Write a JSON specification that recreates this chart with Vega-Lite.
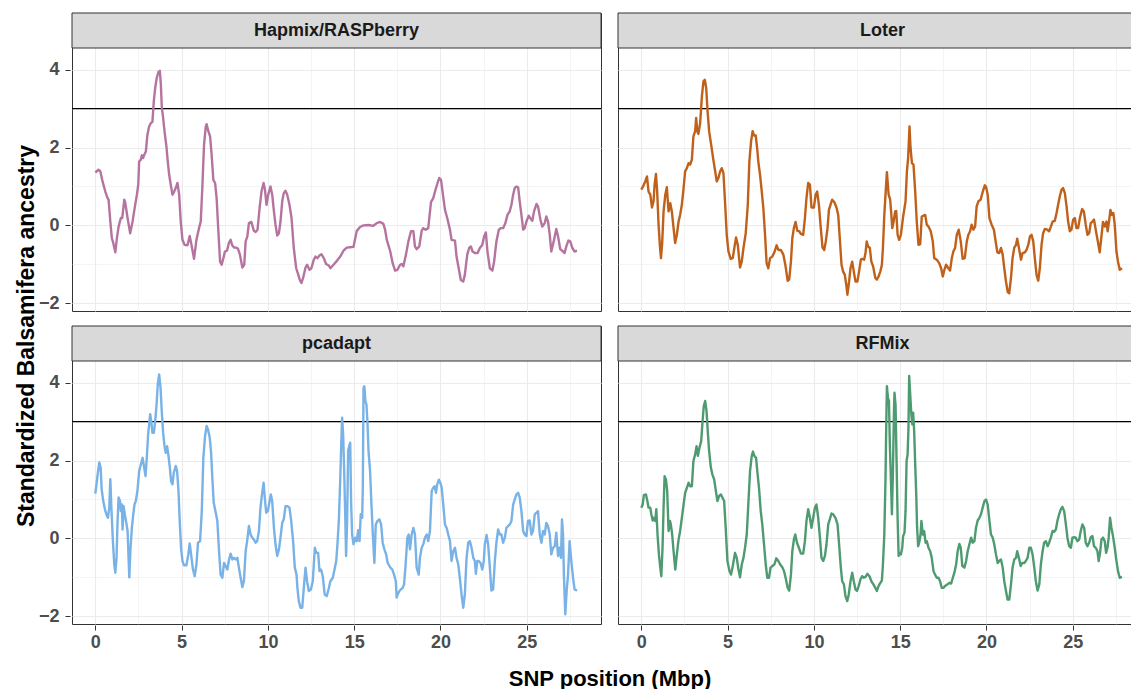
{
"$schema": "https://vega.github.io/schema/vega-lite/v6.json",
"padding": {"left": 16, "top": 12, "right": 0, "bottom": 5},
"background": "white",
"title": {"text": "Standardized Balsamifera ancestry", "orient": "left", "anchor": "middle", "font": "Liberation Sans", "fontSize": 23, "fontWeight": "bold", "color": "#000000", "offset": -1, "dx": 15},
"config": {"view": {"stroke": "#333333", "strokeWidth": 1}, "font": "Liberation Sans"},
"data": {"values": [
{"m":"Hapmix/RASPberry","x":0,"y":1.36},{"m":"Hapmix/RASPberry","x":0.19,"y":1.43},{"m":"Hapmix/RASPberry","x":0.29,"y":1.39},{"m":"Hapmix/RASPberry","x":0.42,"y":1.13},{"m":"Hapmix/RASPberry","x":0.58,"y":0.87},{"m":"Hapmix/RASPberry","x":0.71,"y":0.70},{"m":"Hapmix/RASPberry","x":0.77,"y":0.66},{"m":"Hapmix/RASPberry","x":0.87,"y":0.10},{"m":"Hapmix/RASPberry","x":0.96,"y":-0.33},{"m":"Hapmix/RASPberry","x":1.04,"y":-0.45},{"m":"Hapmix/RASPberry","x":1.16,"y":-0.69},{"m":"Hapmix/RASPberry","x":1.25,"y":-0.33},{"m":"Hapmix/RASPberry","x":1.35,"y":-0.03},{"m":"Hapmix/RASPberry","x":1.48,"y":0.19},{"m":"Hapmix/RASPberry","x":1.56,"y":0.19},{"m":"Hapmix/RASPberry","x":1.68,"y":0.66},{"m":"Hapmix/RASPberry","x":1.73,"y":0.60},{"m":"Hapmix/RASPberry","x":1.87,"y":0.19},{"m":"Hapmix/RASPberry","x":2.02,"y":-0.20},{"m":"Hapmix/RASPberry","x":2.16,"y":0.10},{"m":"Hapmix/RASPberry","x":2.25,"y":0.36},{"m":"Hapmix/RASPberry","x":2.41,"y":0.79},{"m":"Hapmix/RASPberry","x":2.49,"y":1.05},{"m":"Hapmix/RASPberry","x":2.54,"y":1.64},{"m":"Hapmix/RASPberry","x":2.64,"y":1.69},{"m":"Hapmix/RASPberry","x":2.70,"y":1.80},{"m":"Hapmix/RASPberry","x":2.77,"y":1.73},{"m":"Hapmix/RASPberry","x":2.85,"y":1.83},{"m":"Hapmix/RASPberry","x":2.93,"y":1.90},{"m":"Hapmix/RASPberry","x":3.02,"y":2.33},{"m":"Hapmix/RASPberry","x":3.12,"y":2.54},{"m":"Hapmix/RASPberry","x":3.22,"y":2.63},{"m":"Hapmix/RASPberry","x":3.31,"y":2.66},{"m":"Hapmix/RASPberry","x":3.39,"y":3.19},{"m":"Hapmix/RASPberry","x":3.47,"y":3.53},{"m":"Hapmix/RASPberry","x":3.56,"y":3.79},{"m":"Hapmix/RASPberry","x":3.66,"y":3.94},{"m":"Hapmix/RASPberry","x":3.74,"y":3.97},{"m":"Hapmix/RASPberry","x":3.80,"y":3.61},{"m":"Hapmix/RASPberry","x":3.85,"y":3.06},{"m":"Hapmix/RASPberry","x":3.93,"y":2.76},{"m":"Hapmix/RASPberry","x":4.01,"y":2.42},{"m":"Hapmix/RASPberry","x":4.12,"y":2.03},{"m":"Hapmix/RASPberry","x":4.20,"y":1.64},{"m":"Hapmix/RASPberry","x":4.28,"y":1.30},{"m":"Hapmix/RASPberry","x":4.37,"y":1.05},{"m":"Hapmix/RASPberry","x":4.47,"y":0.79},{"m":"Hapmix/RASPberry","x":4.57,"y":0.87},{"m":"Hapmix/RASPberry","x":4.66,"y":0.96},{"m":"Hapmix/RASPberry","x":4.76,"y":1.09},{"m":"Hapmix/RASPberry","x":4.86,"y":0.79},{"m":"Hapmix/RASPberry","x":4.95,"y":0.10},{"m":"Hapmix/RASPberry","x":5.05,"y":-0.37},{"m":"Hapmix/RASPberry","x":5.18,"y":-0.50},{"m":"Hapmix/RASPberry","x":5.34,"y":-0.51},{"m":"Hapmix/RASPberry","x":5.47,"y":-0.27},{"m":"Hapmix/RASPberry","x":5.59,"y":-0.54},{"m":"Hapmix/RASPberry","x":5.72,"y":-0.86},{"m":"Hapmix/RASPberry","x":5.86,"y":-0.37},{"m":"Hapmix/RASPberry","x":6.01,"y":-0.07},{"m":"Hapmix/RASPberry","x":6.11,"y":0.10},{"m":"Hapmix/RASPberry","x":6.20,"y":0.96},{"m":"Hapmix/RASPberry","x":6.30,"y":2.07},{"m":"Hapmix/RASPberry","x":6.40,"y":2.54},{"m":"Hapmix/RASPberry","x":6.45,"y":2.60},{"m":"Hapmix/RASPberry","x":6.55,"y":2.42},{"m":"Hapmix/RASPberry","x":6.65,"y":2.29},{"m":"Hapmix/RASPberry","x":6.74,"y":1.82},{"m":"Hapmix/RASPberry","x":6.84,"y":1.17},{"m":"Hapmix/RASPberry","x":6.94,"y":1.09},{"m":"Hapmix/RASPberry","x":7.03,"y":0.70},{"m":"Hapmix/RASPberry","x":7.13,"y":-0.15},{"m":"Hapmix/RASPberry","x":7.23,"y":-0.93},{"m":"Hapmix/RASPberry","x":7.32,"y":-1.01},{"m":"Hapmix/RASPberry","x":7.42,"y":-0.84},{"m":"Hapmix/RASPberry","x":7.51,"y":-0.67},{"m":"Hapmix/RASPberry","x":7.63,"y":-0.65},{"m":"Hapmix/RASPberry","x":7.74,"y":-0.45},{"m":"Hapmix/RASPberry","x":7.84,"y":-0.37},{"m":"Hapmix/RASPberry","x":7.93,"y":-0.51},{"m":"Hapmix/RASPberry","x":8.05,"y":-0.57},{"m":"Hapmix/RASPberry","x":8.16,"y":-0.57},{"m":"Hapmix/RASPberry","x":8.27,"y":-0.60},{"m":"Hapmix/RASPberry","x":8.38,"y":-0.75},{"m":"Hapmix/RASPberry","x":8.52,"y":-1.08},{"m":"Hapmix/RASPberry","x":8.63,"y":-1.01},{"m":"Hapmix/RASPberry","x":8.71,"y":-0.41},{"m":"Hapmix/RASPberry","x":8.81,"y":-0.28},{"m":"Hapmix/RASPberry","x":8.90,"y":0.06},{"m":"Hapmix/RASPberry","x":9.04,"y":0.09},{"m":"Hapmix/RASPberry","x":9.19,"y":-0.14},{"m":"Hapmix/RASPberry","x":9.29,"y":-0.17},{"m":"Hapmix/RASPberry","x":9.40,"y":-0.11},{"m":"Hapmix/RASPberry","x":9.52,"y":0.45},{"m":"Hapmix/RASPberry","x":9.63,"y":0.87},{"m":"Hapmix/RASPberry","x":9.75,"y":1.09},{"m":"Hapmix/RASPberry","x":9.83,"y":0.92},{"m":"Hapmix/RASPberry","x":9.92,"y":0.53},{"m":"Hapmix/RASPberry","x":10.02,"y":0.79},{"m":"Hapmix/RASPberry","x":10.15,"y":1.00},{"m":"Hapmix/RASPberry","x":10.25,"y":0.79},{"m":"Hapmix/RASPberry","x":10.35,"y":0.36},{"m":"Hapmix/RASPberry","x":10.44,"y":0.02},{"m":"Hapmix/RASPberry","x":10.54,"y":-0.26},{"m":"Hapmix/RASPberry","x":10.64,"y":-0.20},{"m":"Hapmix/RASPberry","x":10.73,"y":0.10},{"m":"Hapmix/RASPberry","x":10.83,"y":0.62},{"m":"Hapmix/RASPberry","x":10.92,"y":0.83},{"m":"Hapmix/RASPberry","x":11.02,"y":0.89},{"m":"Hapmix/RASPberry","x":11.12,"y":0.79},{"m":"Hapmix/RASPberry","x":11.25,"y":0.53},{"m":"Hapmix/RASPberry","x":11.37,"y":0.19},{"m":"Hapmix/RASPberry","x":11.50,"y":-0.58},{"m":"Hapmix/RASPberry","x":11.64,"y":-1.10},{"m":"Hapmix/RASPberry","x":11.75,"y":-1.25},{"m":"Hapmix/RASPberry","x":11.85,"y":-1.40},{"m":"Hapmix/RASPberry","x":11.94,"y":-1.48},{"m":"Hapmix/RASPberry","x":12.04,"y":-1.35},{"m":"Hapmix/RASPberry","x":12.18,"y":-1.08},{"m":"Hapmix/RASPberry","x":12.27,"y":-1.01},{"m":"Hapmix/RASPberry","x":12.41,"y":-1.14},{"m":"Hapmix/RASPberry","x":12.52,"y":-1.10},{"m":"Hapmix/RASPberry","x":12.66,"y":-0.88},{"m":"Hapmix/RASPberry","x":12.76,"y":-0.80},{"m":"Hapmix/RASPberry","x":12.87,"y":-0.84},{"m":"Hapmix/RASPberry","x":12.99,"y":-0.77},{"m":"Hapmix/RASPberry","x":13.10,"y":-0.74},{"m":"Hapmix/RASPberry","x":13.24,"y":-0.84},{"m":"Hapmix/RASPberry","x":13.37,"y":-0.99},{"m":"Hapmix/RASPberry","x":13.53,"y":-1.03},{"m":"Hapmix/RASPberry","x":13.62,"y":-1.10},{"m":"Hapmix/RASPberry","x":13.80,"y":-1.01},{"m":"Hapmix/RASPberry","x":14.0,"y":-0.91},{"m":"Hapmix/RASPberry","x":14.19,"y":-0.80},{"m":"Hapmix/RASPberry","x":14.38,"y":-0.65},{"m":"Hapmix/RASPberry","x":14.57,"y":-0.57},{"m":"Hapmix/RASPberry","x":14.77,"y":-0.56},{"m":"Hapmix/RASPberry","x":14.96,"y":-0.55},{"m":"Hapmix/RASPberry","x":15.06,"y":-0.33},{"m":"Hapmix/RASPberry","x":15.15,"y":-0.14},{"m":"Hapmix/RASPberry","x":15.34,"y":-0.04},{"m":"Hapmix/RASPberry","x":15.54,"y":0.00},{"m":"Hapmix/RASPberry","x":15.83,"y":0.01},{"m":"Hapmix/RASPberry","x":16.11,"y":-0.01},{"m":"Hapmix/RASPberry","x":16.31,"y":0.06},{"m":"Hapmix/RASPberry","x":16.50,"y":0.09},{"m":"Hapmix/RASPberry","x":16.69,"y":0.04},{"m":"Hapmix/RASPberry","x":16.79,"y":-0.11},{"m":"Hapmix/RASPberry","x":16.89,"y":-0.37},{"m":"Hapmix/RASPberry","x":17.08,"y":-0.65},{"m":"Hapmix/RASPberry","x":17.23,"y":-0.97},{"m":"Hapmix/RASPberry","x":17.37,"y":-1.16},{"m":"Hapmix/RASPberry","x":17.50,"y":-1.14},{"m":"Hapmix/RASPberry","x":17.66,"y":-1.01},{"m":"Hapmix/RASPberry","x":17.75,"y":-0.99},{"m":"Hapmix/RASPberry","x":17.85,"y":-1.05},{"m":"Hapmix/RASPberry","x":18.0,"y":-0.75},{"m":"Hapmix/RASPberry","x":18.14,"y":-0.41},{"m":"Hapmix/RASPberry","x":18.29,"y":-0.15},{"m":"Hapmix/RASPberry","x":18.43,"y":-0.15},{"m":"Hapmix/RASPberry","x":18.52,"y":-0.54},{"m":"Hapmix/RASPberry","x":18.62,"y":-0.61},{"m":"Hapmix/RASPberry","x":18.77,"y":-0.54},{"m":"Hapmix/RASPberry","x":18.91,"y":-0.14},{"m":"Hapmix/RASPberry","x":19.0,"y":-0.07},{"m":"Hapmix/RASPberry","x":19.14,"y":-0.11},{"m":"Hapmix/RASPberry","x":19.29,"y":-0.07},{"m":"Hapmix/RASPberry","x":19.45,"y":0.60},{"m":"Hapmix/RASPberry","x":19.58,"y":0.70},{"m":"Hapmix/RASPberry","x":19.74,"y":0.96},{"m":"Hapmix/RASPberry","x":19.83,"y":1.09},{"m":"Hapmix/RASPberry","x":19.93,"y":1.22},{"m":"Hapmix/RASPberry","x":20.03,"y":1.17},{"m":"Hapmix/RASPberry","x":20.12,"y":0.87},{"m":"Hapmix/RASPberry","x":20.26,"y":0.40},{"m":"Hapmix/RASPberry","x":20.39,"y":0.19},{"m":"Hapmix/RASPberry","x":20.55,"y":-0.11},{"m":"Hapmix/RASPberry","x":20.64,"y":-0.37},{"m":"Hapmix/RASPberry","x":20.84,"y":-0.39},{"m":"Hapmix/RASPberry","x":20.93,"y":-0.80},{"m":"Hapmix/RASPberry","x":21.07,"y":-1.14},{"m":"Hapmix/RASPberry","x":21.18,"y":-1.40},{"m":"Hapmix/RASPberry","x":21.32,"y":-1.44},{"m":"Hapmix/RASPberry","x":21.41,"y":-1.27},{"m":"Hapmix/RASPberry","x":21.55,"y":-0.75},{"m":"Hapmix/RASPberry","x":21.66,"y":-0.58},{"m":"Hapmix/RASPberry","x":21.76,"y":-0.54},{"m":"Hapmix/RASPberry","x":21.86,"y":-0.67},{"m":"Hapmix/RASPberry","x":21.99,"y":-0.71},{"m":"Hapmix/RASPberry","x":22.15,"y":-0.71},{"m":"Hapmix/RASPberry","x":22.28,"y":-0.58},{"m":"Hapmix/RASPberry","x":22.42,"y":-0.50},{"m":"Hapmix/RASPberry","x":22.53,"y":-0.28},{"m":"Hapmix/RASPberry","x":22.63,"y":-0.18},{"m":"Hapmix/RASPberry","x":22.72,"y":-0.67},{"m":"Hapmix/RASPberry","x":22.86,"y":-1.10},{"m":"Hapmix/RASPberry","x":23.01,"y":-1.16},{"m":"Hapmix/RASPberry","x":23.11,"y":-0.92},{"m":"Hapmix/RASPberry","x":23.24,"y":-0.41},{"m":"Hapmix/RASPberry","x":23.38,"y":-0.11},{"m":"Hapmix/RASPberry","x":23.49,"y":-0.07},{"m":"Hapmix/RASPberry","x":23.63,"y":-0.07},{"m":"Hapmix/RASPberry","x":23.76,"y":0.06},{"m":"Hapmix/RASPberry","x":23.88,"y":0.27},{"m":"Hapmix/RASPberry","x":24.01,"y":0.36},{"m":"Hapmix/RASPberry","x":24.11,"y":0.53},{"m":"Hapmix/RASPberry","x":24.21,"y":0.79},{"m":"Hapmix/RASPberry","x":24.30,"y":0.96},{"m":"Hapmix/RASPberry","x":24.40,"y":1.00},{"m":"Hapmix/RASPberry","x":24.50,"y":0.98},{"m":"Hapmix/RASPberry","x":24.59,"y":0.62},{"m":"Hapmix/RASPberry","x":24.69,"y":0.27},{"m":"Hapmix/RASPberry","x":24.79,"y":-0.11},{"m":"Hapmix/RASPberry","x":24.88,"y":-0.07},{"m":"Hapmix/RASPberry","x":24.98,"y":0.10},{"m":"Hapmix/RASPberry","x":25.11,"y":0.25},{"m":"Hapmix/RASPberry","x":25.23,"y":0.17},{"m":"Hapmix/RASPberry","x":25.32,"y":0.12},{"m":"Hapmix/RASPberry","x":25.42,"y":0.36},{"m":"Hapmix/RASPberry","x":25.56,"y":0.55},{"m":"Hapmix/RASPberry","x":25.65,"y":0.49},{"m":"Hapmix/RASPberry","x":25.79,"y":0.15},{"m":"Hapmix/RASPberry","x":25.90,"y":-0.03},{"m":"Hapmix/RASPberry","x":26.04,"y":0.06},{"m":"Hapmix/RASPberry","x":26.13,"y":0.23},{"m":"Hapmix/RASPberry","x":26.23,"y":0.10},{"m":"Hapmix/RASPberry","x":26.33,"y":-0.24},{"m":"Hapmix/RASPberry","x":26.42,"y":-0.67},{"m":"Hapmix/RASPberry","x":26.56,"y":-0.41},{"m":"Hapmix/RASPberry","x":26.71,"y":-0.09},{"m":"Hapmix/RASPberry","x":26.81,"y":-0.28},{"m":"Hapmix/RASPberry","x":26.94,"y":-0.61},{"m":"Hapmix/RASPberry","x":27.10,"y":-0.67},{"m":"Hapmix/RASPberry","x":27.19,"y":-0.71},{"m":"Hapmix/RASPberry","x":27.29,"y":-0.54},{"m":"Hapmix/RASPberry","x":27.41,"y":-0.39},{"m":"Hapmix/RASPberry","x":27.52,"y":-0.41},{"m":"Hapmix/RASPberry","x":27.64,"y":-0.58},{"m":"Hapmix/RASPberry","x":27.77,"y":-0.67},{"m":"Hapmix/RASPberry","x":27.91,"y":-0.65},
{"m":"Loter","x":0,"y":0.92},{"m":"Loter","x":0.13,"y":1.03},{"m":"Loter","x":0.23,"y":1.13},{"m":"Loter","x":0.33,"y":1.26},{"m":"Loter","x":0.42,"y":0.87},{"m":"Loter","x":0.52,"y":0.79},{"m":"Loter","x":0.62,"y":0.46},{"m":"Loter","x":0.71,"y":0.62},{"m":"Loter","x":0.77,"y":1.05},{"m":"Loter","x":0.85,"y":1.32},{"m":"Loter","x":0.92,"y":0.87},{"m":"Loter","x":1.0,"y":0.02},{"m":"Loter","x":1.08,"y":-0.54},{"m":"Loter","x":1.14,"y":-0.84},{"m":"Loter","x":1.21,"y":-0.45},{"m":"Loter","x":1.29,"y":0.36},{"m":"Loter","x":1.39,"y":0.79},{"m":"Loter","x":1.48,"y":0.98},{"m":"Loter","x":1.58,"y":0.36},{"m":"Loter","x":1.68,"y":0.57},{"m":"Loter","x":1.77,"y":0.36},{"m":"Loter","x":1.87,"y":-0.07},{"m":"Loter","x":1.96,"y":-0.45},{"m":"Loter","x":2.06,"y":-0.24},{"m":"Loter","x":2.16,"y":0.10},{"m":"Loter","x":2.25,"y":0.27},{"m":"Loter","x":2.35,"y":0.53},{"m":"Loter","x":2.45,"y":0.96},{"m":"Loter","x":2.54,"y":1.39},{"m":"Loter","x":2.64,"y":1.47},{"m":"Loter","x":2.74,"y":1.60},{"m":"Loter","x":2.83,"y":1.56},{"m":"Loter","x":2.93,"y":1.69},{"m":"Loter","x":3.02,"y":2.29},{"m":"Loter","x":3.12,"y":2.42},{"m":"Loter","x":3.18,"y":2.76},{"m":"Loter","x":3.24,"y":2.42},{"m":"Loter","x":3.31,"y":2.35},{"m":"Loter","x":3.41,"y":2.63},{"m":"Loter","x":3.51,"y":3.31},{"m":"Loter","x":3.60,"y":3.70},{"m":"Loter","x":3.68,"y":3.74},{"m":"Loter","x":3.76,"y":3.53},{"m":"Loter","x":3.84,"y":2.93},{"m":"Loter","x":3.93,"y":2.42},{"m":"Loter","x":4.05,"y":2.07},{"m":"Loter","x":4.16,"y":1.73},{"m":"Loter","x":4.28,"y":1.39},{"m":"Loter","x":4.37,"y":1.13},{"m":"Loter","x":4.47,"y":1.22},{"m":"Loter","x":4.57,"y":1.39},{"m":"Loter","x":4.66,"y":1.47},{"m":"Loter","x":4.76,"y":1.34},{"m":"Loter","x":4.86,"y":0.53},{"m":"Loter","x":4.95,"y":-0.24},{"m":"Loter","x":5.05,"y":-0.67},{"m":"Loter","x":5.18,"y":-0.86},{"m":"Loter","x":5.30,"y":-0.84},{"m":"Loter","x":5.39,"y":-0.58},{"m":"Loter","x":5.49,"y":-0.31},{"m":"Loter","x":5.59,"y":-0.50},{"m":"Loter","x":5.72,"y":-1.08},{"m":"Loter","x":5.82,"y":-0.93},{"m":"Loter","x":5.92,"y":-0.58},{"m":"Loter","x":6.05,"y":-0.20},{"m":"Loter","x":6.17,"y":0.53},{"m":"Loter","x":6.26,"y":1.64},{"m":"Loter","x":6.36,"y":2.16},{"m":"Loter","x":6.45,"y":2.42},{"m":"Loter","x":6.53,"y":2.31},{"m":"Loter","x":6.63,"y":2.31},{"m":"Loter","x":6.71,"y":1.99},{"m":"Loter","x":6.78,"y":1.64},{"m":"Loter","x":6.88,"y":1.30},{"m":"Loter","x":6.98,"y":0.87},{"m":"Loter","x":7.07,"y":0.45},{"m":"Loter","x":7.17,"y":-0.24},{"m":"Loter","x":7.26,"y":-0.97},{"m":"Loter","x":7.36,"y":-1.10},{"m":"Loter","x":7.46,"y":-0.84},{"m":"Loter","x":7.59,"y":-0.80},{"m":"Loter","x":7.71,"y":-0.69},{"m":"Loter","x":7.84,"y":-0.51},{"m":"Loter","x":7.94,"y":-0.63},{"m":"Loter","x":8.09,"y":-0.63},{"m":"Loter","x":8.23,"y":-0.75},{"m":"Loter","x":8.36,"y":-1.05},{"m":"Loter","x":8.48,"y":-1.42},{"m":"Loter","x":8.57,"y":-1.39},{"m":"Loter","x":8.67,"y":-0.93},{"m":"Loter","x":8.75,"y":-0.33},{"m":"Loter","x":8.84,"y":-0.07},{"m":"Loter","x":8.94,"y":0.09},{"m":"Loter","x":9.04,"y":-0.14},{"m":"Loter","x":9.15,"y":-0.15},{"m":"Loter","x":9.25,"y":-0.22},{"m":"Loter","x":9.38,"y":-0.24},{"m":"Loter","x":9.48,"y":0.19},{"m":"Loter","x":9.57,"y":0.70},{"m":"Loter","x":9.67,"y":1.09},{"m":"Loter","x":9.77,"y":1.05},{"m":"Loter","x":9.86,"y":0.46},{"m":"Loter","x":10.0,"y":0.46},{"m":"Loter","x":10.10,"y":0.79},{"m":"Loter","x":10.19,"y":0.87},{"m":"Loter","x":10.29,"y":0.53},{"m":"Loter","x":10.40,"y":-0.07},{"m":"Loter","x":10.50,"y":-0.57},{"m":"Loter","x":10.60,"y":-0.63},{"m":"Loter","x":10.69,"y":-0.41},{"m":"Loter","x":10.79,"y":-0.07},{"m":"Loter","x":10.87,"y":0.40},{"m":"Loter","x":10.96,"y":0.53},{"m":"Loter","x":11.06,"y":0.66},{"m":"Loter","x":11.18,"y":0.60},{"m":"Loter","x":11.31,"y":0.46},{"m":"Loter","x":11.41,"y":0.27},{"m":"Loter","x":11.50,"y":-0.33},{"m":"Loter","x":11.60,"y":-1.01},{"m":"Loter","x":11.69,"y":-1.18},{"m":"Loter","x":11.79,"y":-1.27},{"m":"Loter","x":11.89,"y":-1.57},{"m":"Loter","x":11.94,"y":-1.78},{"m":"Loter","x":12.04,"y":-1.44},{"m":"Loter","x":12.12,"y":-1.10},{"m":"Loter","x":12.22,"y":-0.93},{"m":"Loter","x":12.31,"y":-1.18},{"m":"Loter","x":12.41,"y":-1.44},{"m":"Loter","x":12.52,"y":-1.44},{"m":"Loter","x":12.62,"y":-1.18},{"m":"Loter","x":12.72,"y":-0.88},{"m":"Loter","x":12.81,"y":-0.86},{"m":"Loter","x":12.91,"y":-0.88},{"m":"Loter","x":12.99,"y":-0.71},{"m":"Loter","x":13.06,"y":-0.41},{"m":"Loter","x":13.14,"y":-0.54},{"m":"Loter","x":13.24,"y":-0.58},{"m":"Loter","x":13.33,"y":-0.93},{"m":"Loter","x":13.43,"y":-1.05},{"m":"Loter","x":13.56,"y":-1.35},{"m":"Loter","x":13.65,"y":-1.39},{"m":"Loter","x":13.75,"y":-1.31},{"m":"Loter","x":13.85,"y":-1.18},{"m":"Loter","x":13.94,"y":-1.01},{"m":"Loter","x":14.0,"y":-0.58},{"m":"Loter","x":14.08,"y":0.27},{"m":"Loter","x":14.15,"y":0.79},{"m":"Loter","x":14.23,"y":1.37},{"m":"Loter","x":14.33,"y":0.79},{"m":"Loter","x":14.42,"y":0.66},{"m":"Loter","x":14.48,"y":0.32},{"m":"Loter","x":14.54,"y":-0.07},{"m":"Loter","x":14.62,"y":0.10},{"m":"Loter","x":14.71,"y":0.36},{"m":"Loter","x":14.77,"y":0.37},{"m":"Loter","x":14.85,"y":-0.24},{"m":"Loter","x":14.94,"y":-0.37},{"m":"Loter","x":15.04,"y":-0.24},{"m":"Loter","x":15.16,"y":0.19},{"m":"Loter","x":15.25,"y":0.45},{"m":"Loter","x":15.31,"y":0.62},{"m":"Loter","x":15.39,"y":1.39},{"m":"Loter","x":15.46,"y":1.73},{"m":"Loter","x":15.54,"y":2.54},{"m":"Loter","x":15.60,"y":1.99},{"m":"Loter","x":15.68,"y":1.60},{"m":"Loter","x":15.77,"y":1.56},{"m":"Loter","x":15.87,"y":0.87},{"m":"Loter","x":15.96,"y":0.10},{"m":"Loter","x":16.06,"y":-0.50},{"m":"Loter","x":16.16,"y":-0.48},{"m":"Loter","x":16.25,"y":0.23},{"m":"Loter","x":16.35,"y":0.25},{"m":"Loter","x":16.45,"y":0.27},{"m":"Loter","x":16.54,"y":0.02},{"m":"Loter","x":16.64,"y":-0.03},{"m":"Loter","x":16.77,"y":-0.15},{"m":"Loter","x":16.89,"y":-0.41},{"m":"Loter","x":16.97,"y":-0.84},{"m":"Loter","x":17.12,"y":-0.88},{"m":"Loter","x":17.26,"y":-0.97},{"m":"Loter","x":17.37,"y":-1.10},{"m":"Loter","x":17.47,"y":-1.31},{"m":"Loter","x":17.56,"y":-1.14},{"m":"Loter","x":17.66,"y":-1.01},{"m":"Loter","x":17.79,"y":-1.10},{"m":"Loter","x":17.89,"y":-1.16},{"m":"Loter","x":17.99,"y":-0.84},{"m":"Loter","x":18.08,"y":-0.67},{"m":"Loter","x":18.18,"y":-0.58},{"m":"Loter","x":18.28,"y":-0.24},{"m":"Loter","x":18.39,"y":-0.11},{"m":"Loter","x":18.51,"y":-0.41},{"m":"Loter","x":18.62,"y":-0.86},{"m":"Loter","x":18.74,"y":-0.84},{"m":"Loter","x":18.86,"y":-0.41},{"m":"Loter","x":18.95,"y":-0.24},{"m":"Loter","x":19.05,"y":-0.15},{"m":"Loter","x":19.14,"y":0.02},{"m":"Loter","x":19.24,"y":-0.11},{"m":"Loter","x":19.34,"y":-0.03},{"m":"Loter","x":19.43,"y":0.49},{"m":"Loter","x":19.53,"y":0.62},{"m":"Loter","x":19.66,"y":0.66},{"m":"Loter","x":19.78,"y":0.86},{"m":"Loter","x":19.90,"y":1.03},{"m":"Loter","x":19.97,"y":1.00},{"m":"Loter","x":20.07,"y":0.79},{"m":"Loter","x":20.17,"y":0.19},{"m":"Loter","x":20.30,"y":0.02},{"m":"Loter","x":20.43,"y":-0.11},{"m":"Loter","x":20.53,"y":-0.41},{"m":"Loter","x":20.63,"y":-0.69},{"m":"Loter","x":20.74,"y":-0.71},{"m":"Loter","x":20.84,"y":-0.58},{"m":"Loter","x":20.94,"y":-0.75},{"m":"Loter","x":21.03,"y":-1.10},{"m":"Loter","x":21.13,"y":-1.44},{"m":"Loter","x":21.23,"y":-1.71},{"m":"Loter","x":21.32,"y":-1.74},{"m":"Loter","x":21.42,"y":-1.35},{"m":"Loter","x":21.51,"y":-0.84},{"m":"Loter","x":21.61,"y":-0.57},{"m":"Loter","x":21.71,"y":-0.50},{"m":"Loter","x":21.78,"y":-0.34},{"m":"Loter","x":21.88,"y":-0.58},{"m":"Loter","x":22.0,"y":-0.88},{"m":"Loter","x":22.09,"y":-0.71},{"m":"Loter","x":22.23,"y":-0.69},{"m":"Loter","x":22.32,"y":-0.63},{"m":"Loter","x":22.42,"y":-0.50},{"m":"Loter","x":22.52,"y":-0.28},{"m":"Loter","x":22.61,"y":-0.24},{"m":"Loter","x":22.71,"y":-0.41},{"m":"Loter","x":22.80,"y":-0.84},{"m":"Loter","x":22.90,"y":-1.27},{"m":"Loter","x":23.0,"y":-1.42},{"m":"Loter","x":23.09,"y":-1.10},{"m":"Loter","x":23.19,"y":-0.50},{"m":"Loter","x":23.28,"y":-0.20},{"m":"Loter","x":23.38,"y":-0.09},{"m":"Loter","x":23.52,"y":-0.11},{"m":"Loter","x":23.63,"y":-0.15},{"m":"Loter","x":23.73,"y":-0.03},{"m":"Loter","x":23.83,"y":0.10},{"m":"Loter","x":23.96,"y":0.12},{"m":"Loter","x":24.06,"y":0.32},{"m":"Loter","x":24.15,"y":0.53},{"m":"Loter","x":24.25,"y":0.75},{"m":"Loter","x":24.35,"y":0.92},{"m":"Loter","x":24.44,"y":0.96},{"m":"Loter","x":24.54,"y":0.83},{"m":"Loter","x":24.64,"y":0.49},{"m":"Loter","x":24.73,"y":0.10},{"m":"Loter","x":24.83,"y":-0.15},{"m":"Loter","x":24.92,"y":-0.11},{"m":"Loter","x":25.02,"y":0.15},{"m":"Loter","x":25.12,"y":0.19},{"m":"Loter","x":25.21,"y":-0.07},{"m":"Loter","x":25.31,"y":-0.07},{"m":"Loter","x":25.41,"y":0.19},{"m":"Loter","x":25.54,"y":0.42},{"m":"Loter","x":25.64,"y":0.36},{"m":"Loter","x":25.75,"y":0.02},{"m":"Loter","x":25.85,"y":-0.24},{"m":"Loter","x":25.95,"y":-0.20},{"m":"Loter","x":26.04,"y":0.06},{"m":"Loter","x":26.14,"y":0.10},{"m":"Loter","x":26.23,"y":0.15},{"m":"Loter","x":26.33,"y":-0.11},{"m":"Loter","x":26.45,"y":-0.41},{"m":"Loter","x":26.56,"y":-0.69},{"m":"Loter","x":26.66,"y":-0.28},{"m":"Loter","x":26.75,"y":0.09},{"m":"Loter","x":26.85,"y":-0.03},{"m":"Loter","x":26.95,"y":0.10},{"m":"Loter","x":27.02,"y":-0.15},{"m":"Loter","x":27.10,"y":0.10},{"m":"Loter","x":27.18,"y":0.40},{"m":"Loter","x":27.27,"y":0.27},{"m":"Loter","x":27.35,"y":0.32},{"m":"Loter","x":27.43,"y":0.02},{"m":"Loter","x":27.53,"y":-0.67},{"m":"Loter","x":27.62,"y":-0.93},{"m":"Loter","x":27.72,"y":-1.14},{"m":"Loter","x":27.85,"y":-1.10},
{"m":"pcadapt","x":0,"y":1.15},{"m":"pcadapt","x":0.08,"y":1.43},{"m":"pcadapt","x":0.15,"y":1.69},{"m":"pcadapt","x":0.23,"y":1.95},{"m":"pcadapt","x":0.31,"y":1.82},{"m":"pcadapt","x":0.37,"y":1.26},{"m":"pcadapt","x":0.46,"y":0.96},{"m":"pcadapt","x":0.56,"y":0.74},{"m":"pcadapt","x":0.66,"y":0.60},{"m":"pcadapt","x":0.73,"y":0.53},{"m":"pcadapt","x":0.81,"y":0.79},{"m":"pcadapt","x":0.87,"y":1.52},{"m":"pcadapt","x":0.94,"y":0.70},{"m":"pcadapt","x":1.02,"y":-0.07},{"m":"pcadapt","x":1.10,"y":-0.67},{"m":"pcadapt","x":1.16,"y":-0.88},{"m":"pcadapt","x":1.23,"y":-0.50},{"m":"pcadapt","x":1.29,"y":0.45},{"m":"pcadapt","x":1.35,"y":1.05},{"m":"pcadapt","x":1.43,"y":0.96},{"m":"pcadapt","x":1.48,"y":0.70},{"m":"pcadapt","x":1.54,"y":0.87},{"m":"pcadapt","x":1.58,"y":0.23},{"m":"pcadapt","x":1.64,"y":0.83},{"m":"pcadapt","x":1.71,"y":0.62},{"m":"pcadapt","x":1.81,"y":0.36},{"m":"pcadapt","x":1.87,"y":0.19},{"m":"pcadapt","x":1.97,"y":-1.0},{"m":"pcadapt","x":2.04,"y":-0.24},{"m":"pcadapt","x":2.12,"y":0.27},{"m":"pcadapt","x":2.20,"y":0.62},{"m":"pcadapt","x":2.27,"y":0.87},{"m":"pcadapt","x":2.35,"y":0.96},{"m":"pcadapt","x":2.45,"y":1.26},{"m":"pcadapt","x":2.54,"y":1.73},{"m":"pcadapt","x":2.64,"y":1.90},{"m":"pcadapt","x":2.74,"y":2.07},{"m":"pcadapt","x":2.83,"y":1.82},{"m":"pcadapt","x":2.91,"y":1.60},{"m":"pcadapt","x":2.99,"y":2.12},{"m":"pcadapt","x":3.06,"y":2.67},{"m":"pcadapt","x":3.12,"y":2.93},{"m":"pcadapt","x":3.18,"y":3.19},{"m":"pcadapt","x":3.24,"y":3.01},{"m":"pcadapt","x":3.31,"y":2.71},{"m":"pcadapt","x":3.39,"y":2.71},{"m":"pcadapt","x":3.47,"y":3.01},{"m":"pcadapt","x":3.55,"y":3.44},{"m":"pcadapt","x":3.62,"y":3.96},{"m":"pcadapt","x":3.70,"y":4.21},{"m":"pcadapt","x":3.78,"y":3.87},{"m":"pcadapt","x":3.85,"y":3.27},{"m":"pcadapt","x":3.93,"y":2.71},{"m":"pcadapt","x":4.01,"y":2.37},{"m":"pcadapt","x":4.08,"y":2.20},{"m":"pcadapt","x":4.16,"y":2.37},{"m":"pcadapt","x":4.24,"y":2.12},{"m":"pcadapt","x":4.32,"y":1.82},{"m":"pcadapt","x":4.39,"y":1.47},{"m":"pcadapt","x":4.47,"y":1.39},{"m":"pcadapt","x":4.55,"y":1.69},{"m":"pcadapt","x":4.66,"y":1.86},{"m":"pcadapt","x":4.74,"y":1.73},{"m":"pcadapt","x":4.82,"y":1.22},{"m":"pcadapt","x":4.89,"y":0.45},{"m":"pcadapt","x":4.97,"y":-0.24},{"m":"pcadapt","x":5.05,"y":-0.58},{"m":"pcadapt","x":5.14,"y":-0.69},{"m":"pcadapt","x":5.28,"y":-0.69},{"m":"pcadapt","x":5.39,"y":-0.41},{"m":"pcadapt","x":5.47,"y":-0.13},{"m":"pcadapt","x":5.55,"y":-0.41},{"m":"pcadapt","x":5.66,"y":-0.80},{"m":"pcadapt","x":5.76,"y":-0.97},{"m":"pcadapt","x":5.86,"y":-0.67},{"m":"pcadapt","x":5.95,"y":-0.11},{"m":"pcadapt","x":6.07,"y":-0.07},{"m":"pcadapt","x":6.17,"y":0.70},{"m":"pcadapt","x":6.26,"y":2.07},{"m":"pcadapt","x":6.36,"y":2.63},{"m":"pcadapt","x":6.45,"y":2.89},{"m":"pcadapt","x":6.53,"y":2.80},{"m":"pcadapt","x":6.63,"y":2.59},{"m":"pcadapt","x":6.71,"y":2.20},{"m":"pcadapt","x":6.78,"y":1.56},{"m":"pcadapt","x":6.86,"y":0.92},{"m":"pcadapt","x":6.98,"y":0.66},{"m":"pcadapt","x":7.07,"y":0.45},{"m":"pcadapt","x":7.17,"y":-0.33},{"m":"pcadapt","x":7.26,"y":-0.93},{"m":"pcadapt","x":7.36,"y":-1.01},{"m":"pcadapt","x":7.46,"y":-0.63},{"m":"pcadapt","x":7.55,"y":-0.71},{"m":"pcadapt","x":7.65,"y":-0.80},{"m":"pcadapt","x":7.75,"y":-0.54},{"m":"pcadapt","x":7.84,"y":-0.39},{"m":"pcadapt","x":7.94,"y":-0.54},{"m":"pcadapt","x":8.03,"y":-0.50},{"m":"pcadapt","x":8.13,"y":-0.54},{"m":"pcadapt","x":8.23,"y":-0.50},{"m":"pcadapt","x":8.32,"y":-0.75},{"m":"pcadapt","x":8.42,"y":-1.01},{"m":"pcadapt","x":8.52,"y":-1.25},{"m":"pcadapt","x":8.61,"y":-1.10},{"m":"pcadapt","x":8.71,"y":-0.33},{"m":"pcadapt","x":8.81,"y":-0.03},{"m":"pcadapt","x":8.90,"y":0.32},{"m":"pcadapt","x":9.0,"y":0.10},{"m":"pcadapt","x":9.09,"y":0.02},{"m":"pcadapt","x":9.19,"y":-0.03},{"m":"pcadapt","x":9.29,"y":-0.11},{"m":"pcadapt","x":9.38,"y":-0.07},{"m":"pcadapt","x":9.48,"y":0.19},{"m":"pcadapt","x":9.57,"y":0.79},{"m":"pcadapt","x":9.67,"y":1.17},{"m":"pcadapt","x":9.75,"y":1.43},{"m":"pcadapt","x":9.83,"y":1.00},{"m":"pcadapt","x":9.90,"y":0.66},{"m":"pcadapt","x":10.0,"y":0.70},{"m":"pcadapt","x":10.10,"y":0.96},{"m":"pcadapt","x":10.17,"y":1.13},{"m":"pcadapt","x":10.25,"y":0.96},{"m":"pcadapt","x":10.35,"y":0.27},{"m":"pcadapt","x":10.44,"y":-0.15},{"m":"pcadapt","x":10.54,"y":-0.45},{"m":"pcadapt","x":10.64,"y":-0.28},{"m":"pcadapt","x":10.73,"y":0.02},{"m":"pcadapt","x":10.83,"y":0.40},{"m":"pcadapt","x":10.92,"y":0.49},{"m":"pcadapt","x":11.02,"y":0.83},{"m":"pcadapt","x":11.12,"y":0.83},{"m":"pcadapt","x":11.25,"y":0.79},{"m":"pcadapt","x":11.35,"y":0.45},{"m":"pcadapt","x":11.46,"y":-0.07},{"m":"pcadapt","x":11.56,"y":-0.75},{"m":"pcadapt","x":11.66,"y":-0.93},{"m":"pcadapt","x":11.71,"y":-1.27},{"m":"pcadapt","x":11.79,"y":-1.61},{"m":"pcadapt","x":11.89,"y":-1.78},{"m":"pcadapt","x":11.99,"y":-1.78},{"m":"pcadapt","x":12.08,"y":-1.27},{"m":"pcadapt","x":12.18,"y":-0.75},{"m":"pcadapt","x":12.27,"y":-1.10},{"m":"pcadapt","x":12.37,"y":-1.35},{"m":"pcadapt","x":12.49,"y":-1.31},{"m":"pcadapt","x":12.60,"y":-1.10},{"m":"pcadapt","x":12.72,"y":-0.24},{"m":"pcadapt","x":12.81,"y":-0.37},{"m":"pcadapt","x":12.91,"y":-0.37},{"m":"pcadapt","x":12.99,"y":-0.84},{"m":"pcadapt","x":13.08,"y":-0.80},{"m":"pcadapt","x":13.18,"y":-0.97},{"m":"pcadapt","x":13.29,"y":-1.44},{"m":"pcadapt","x":13.41,"y":-1.48},{"m":"pcadapt","x":13.53,"y":-1.28},{"m":"pcadapt","x":13.62,"y":-1.10},{"m":"pcadapt","x":13.76,"y":-1.01},{"m":"pcadapt","x":13.86,"y":-0.80},{"m":"pcadapt","x":13.96,"y":-0.58},{"m":"pcadapt","x":14.03,"y":-0.15},{"m":"pcadapt","x":14.11,"y":0.45},{"m":"pcadapt","x":14.19,"y":1.48},{"m":"pcadapt","x":14.25,"y":2.42},{"m":"pcadapt","x":14.30,"y":3.10},{"m":"pcadapt","x":14.36,"y":2.67},{"m":"pcadapt","x":14.42,"y":1.73},{"m":"pcadapt","x":14.48,"y":0.62},{"m":"pcadapt","x":14.53,"y":-0.45},{"m":"pcadapt","x":14.59,"y":0.45},{"m":"pcadapt","x":14.65,"y":2.25},{"m":"pcadapt","x":14.71,"y":2.37},{"m":"pcadapt","x":14.77,"y":2.46},{"m":"pcadapt","x":14.82,"y":0.96},{"m":"pcadapt","x":14.88,"y":0.10},{"m":"pcadapt","x":14.96,"y":-0.15},{"m":"pcadapt","x":15.06,"y":0.02},{"m":"pcadapt","x":15.15,"y":-0.07},{"m":"pcadapt","x":15.23,"y":0.21},{"m":"pcadapt","x":15.31,"y":-0.07},{"m":"pcadapt","x":15.38,"y":0.62},{"m":"pcadapt","x":15.46,"y":0.53},{"m":"pcadapt","x":15.50,"y":1.30},{"m":"pcadapt","x":15.54,"y":3.87},{"m":"pcadapt","x":15.59,"y":3.91},{"m":"pcadapt","x":15.65,"y":3.53},{"m":"pcadapt","x":15.71,"y":3.44},{"m":"pcadapt","x":15.77,"y":2.97},{"m":"pcadapt","x":15.83,"y":2.25},{"m":"pcadapt","x":15.92,"y":1.73},{"m":"pcadapt","x":16.0,"y":0.87},{"m":"pcadapt","x":16.08,"y":0.10},{"m":"pcadapt","x":16.17,"y":-0.63},{"m":"pcadapt","x":16.25,"y":0.36},{"m":"pcadapt","x":16.35,"y":0.45},{"m":"pcadapt","x":16.46,"y":0.49},{"m":"pcadapt","x":16.56,"y":0.36},{"m":"pcadapt","x":16.65,"y":-0.11},{"m":"pcadapt","x":16.75,"y":-0.28},{"m":"pcadapt","x":16.85,"y":-0.41},{"m":"pcadapt","x":16.94,"y":-0.63},{"m":"pcadapt","x":17.08,"y":-0.74},{"m":"pcadapt","x":17.21,"y":-0.80},{"m":"pcadapt","x":17.31,"y":-0.93},{"m":"pcadapt","x":17.41,"y":-1.10},{"m":"pcadapt","x":17.46,"y":-1.52},{"m":"pcadapt","x":17.52,"y":-1.44},{"m":"pcadapt","x":17.62,"y":-1.35},{"m":"pcadapt","x":17.71,"y":-1.31},{"m":"pcadapt","x":17.81,"y":-1.27},{"m":"pcadapt","x":17.89,"y":-1.18},{"m":"pcadapt","x":17.98,"y":-0.67},{"m":"pcadapt","x":18.08,"y":0.02},{"m":"pcadapt","x":18.16,"y":0.10},{"m":"pcadapt","x":18.23,"y":-0.28},{"m":"pcadapt","x":18.33,"y":0.10},{"m":"pcadapt","x":18.43,"y":0.27},{"m":"pcadapt","x":18.52,"y":0.10},{"m":"pcadapt","x":18.62,"y":-0.75},{"m":"pcadapt","x":18.74,"y":-0.93},{"m":"pcadapt","x":18.81,"y":-0.50},{"m":"pcadapt","x":18.91,"y":-0.24},{"m":"pcadapt","x":19.01,"y":-0.14},{"m":"pcadapt","x":19.10,"y":0.02},{"m":"pcadapt","x":19.20,"y":0.10},{"m":"pcadapt","x":19.29,"y":-0.07},{"m":"pcadapt","x":19.39,"y":0.19},{"m":"pcadapt","x":19.49,"y":1.22},{"m":"pcadapt","x":19.58,"y":1.30},{"m":"pcadapt","x":19.66,"y":1.34},{"m":"pcadapt","x":19.74,"y":1.17},{"m":"pcadapt","x":19.81,"y":1.39},{"m":"pcadapt","x":19.91,"y":1.51},{"m":"pcadapt","x":19.99,"y":1.43},{"m":"pcadapt","x":20.07,"y":1.30},{"m":"pcadapt","x":20.16,"y":0.87},{"m":"pcadapt","x":20.26,"y":0.36},{"m":"pcadapt","x":20.36,"y":0.27},{"m":"pcadapt","x":20.45,"y":0.10},{"m":"pcadapt","x":20.55,"y":-0.07},{"m":"pcadapt","x":20.64,"y":-0.58},{"m":"pcadapt","x":20.74,"y":-0.33},{"m":"pcadapt","x":20.84,"y":-0.24},{"m":"pcadapt","x":20.93,"y":-0.50},{"m":"pcadapt","x":21.03,"y":-0.67},{"m":"pcadapt","x":21.12,"y":-1.01},{"m":"pcadapt","x":21.22,"y":-1.44},{"m":"pcadapt","x":21.32,"y":-1.78},{"m":"pcadapt","x":21.41,"y":-1.44},{"m":"pcadapt","x":21.51,"y":-0.50},{"m":"pcadapt","x":21.61,"y":-0.11},{"m":"pcadapt","x":21.70,"y":-0.07},{"m":"pcadapt","x":21.80,"y":-0.24},{"m":"pcadapt","x":21.90,"y":-0.50},{"m":"pcadapt","x":21.99,"y":-0.58},{"m":"pcadapt","x":22.05,"y":-0.91},{"m":"pcadapt","x":22.13,"y":-0.58},{"m":"pcadapt","x":22.22,"y":-0.58},{"m":"pcadapt","x":22.32,"y":-0.63},{"m":"pcadapt","x":22.42,"y":-0.80},{"m":"pcadapt","x":22.51,"y":-0.58},{"m":"pcadapt","x":22.57,"y":-0.15},{"m":"pcadapt","x":22.67,"y":0.09},{"m":"pcadapt","x":22.76,"y":-0.15},{"m":"pcadapt","x":22.86,"y":-0.75},{"m":"pcadapt","x":22.95,"y":-1.34},{"m":"pcadapt","x":23.05,"y":-1.31},{"m":"pcadapt","x":23.15,"y":-0.58},{"m":"pcadapt","x":23.24,"y":-0.11},{"m":"pcadapt","x":23.34,"y":0.23},{"m":"pcadapt","x":23.44,"y":0.10},{"m":"pcadapt","x":23.53,"y":0.10},{"m":"pcadapt","x":23.63,"y":-0.11},{"m":"pcadapt","x":23.73,"y":0.02},{"m":"pcadapt","x":23.82,"y":0.27},{"m":"pcadapt","x":23.92,"y":0.32},{"m":"pcadapt","x":24.02,"y":0.36},{"m":"pcadapt","x":24.11,"y":0.45},{"m":"pcadapt","x":24.21,"y":0.87},{"m":"pcadapt","x":24.30,"y":1.00},{"m":"pcadapt","x":24.40,"y":1.13},{"m":"pcadapt","x":24.50,"y":1.17},{"m":"pcadapt","x":24.59,"y":1.05},{"m":"pcadapt","x":24.69,"y":0.70},{"m":"pcadapt","x":24.79,"y":0.19},{"m":"pcadapt","x":24.88,"y":0.10},{"m":"pcadapt","x":24.98,"y":0.06},{"m":"pcadapt","x":25.07,"y":0.45},{"m":"pcadapt","x":25.17,"y":0.46},{"m":"pcadapt","x":25.27,"y":0.10},{"m":"pcadapt","x":25.36,"y":0.19},{"m":"pcadapt","x":25.46,"y":0.62},{"m":"pcadapt","x":25.56,"y":0.66},{"m":"pcadapt","x":25.65,"y":0.70},{"m":"pcadapt","x":25.75,"y":0.10},{"m":"pcadapt","x":25.85,"y":-0.11},{"m":"pcadapt","x":25.94,"y":0.19},{"m":"pcadapt","x":26.04,"y":0.10},{"m":"pcadapt","x":26.13,"y":0.40},{"m":"pcadapt","x":26.23,"y":0.32},{"m":"pcadapt","x":26.33,"y":0.10},{"m":"pcadapt","x":26.42,"y":-0.41},{"m":"pcadapt","x":26.52,"y":-0.24},{"m":"pcadapt","x":26.62,"y":-0.20},{"m":"pcadapt","x":26.71,"y":0.15},{"m":"pcadapt","x":26.81,"y":-0.45},{"m":"pcadapt","x":26.90,"y":-0.24},{"m":"pcadapt","x":26.98,"y":-0.50},{"m":"pcadapt","x":27.04,"y":0.49},{"m":"pcadapt","x":27.10,"y":0.10},{"m":"pcadapt","x":27.15,"y":-0.93},{"m":"pcadapt","x":27.23,"y":-1.95},{"m":"pcadapt","x":27.31,"y":-1.35},{"m":"pcadapt","x":27.39,"y":-0.93},{"m":"pcadapt","x":27.48,"y":-0.07},{"m":"pcadapt","x":27.58,"y":-0.58},{"m":"pcadapt","x":27.68,"y":-1.01},{"m":"pcadapt","x":27.77,"y":-1.31},{"m":"pcadapt","x":27.91,"y":-1.34},
{"m":"RFMix","x":0,"y":0.79},{"m":"RFMix","x":0.08,"y":0.87},{"m":"RFMix","x":0.15,"y":1.11},{"m":"RFMix","x":0.27,"y":1.13},{"m":"RFMix","x":0.35,"y":0.96},{"m":"RFMix","x":0.42,"y":0.79},{"m":"RFMix","x":0.52,"y":0.79},{"m":"RFMix","x":0.58,"y":0.62},{"m":"RFMix","x":0.66,"y":0.46},{"m":"RFMix","x":0.73,"y":0.53},{"m":"RFMix","x":0.81,"y":0.45},{"m":"RFMix","x":0.87,"y":0.75},{"m":"RFMix","x":0.94,"y":0.10},{"m":"RFMix","x":1.02,"y":-0.41},{"m":"RFMix","x":1.10,"y":-0.75},{"m":"RFMix","x":1.16,"y":-0.97},{"m":"RFMix","x":1.23,"y":-0.24},{"m":"RFMix","x":1.29,"y":0.79},{"m":"RFMix","x":1.35,"y":1.60},{"m":"RFMix","x":1.43,"y":1.51},{"m":"RFMix","x":1.50,"y":1.22},{"m":"RFMix","x":1.58,"y":0.19},{"m":"RFMix","x":1.66,"y":0.45},{"m":"RFMix","x":1.71,"y":0.36},{"m":"RFMix","x":1.79,"y":0.10},{"m":"RFMix","x":1.87,"y":-0.33},{"m":"RFMix","x":1.97,"y":-0.80},{"m":"RFMix","x":2.06,"y":-0.41},{"m":"RFMix","x":2.16,"y":-0.03},{"m":"RFMix","x":2.25,"y":0.19},{"m":"RFMix","x":2.35,"y":0.53},{"m":"RFMix","x":2.45,"y":0.87},{"m":"RFMix","x":2.54,"y":1.17},{"m":"RFMix","x":2.64,"y":1.30},{"m":"RFMix","x":2.74,"y":1.43},{"m":"RFMix","x":2.83,"y":1.34},{"m":"RFMix","x":2.93,"y":1.34},{"m":"RFMix","x":3.02,"y":1.99},{"m":"RFMix","x":3.12,"y":2.16},{"m":"RFMix","x":3.20,"y":2.37},{"m":"RFMix","x":3.28,"y":2.12},{"m":"RFMix","x":3.37,"y":2.33},{"m":"RFMix","x":3.47,"y":2.50},{"m":"RFMix","x":3.55,"y":3.01},{"m":"RFMix","x":3.62,"y":3.40},{"m":"RFMix","x":3.70,"y":3.53},{"m":"RFMix","x":3.78,"y":3.27},{"m":"RFMix","x":3.85,"y":2.76},{"m":"RFMix","x":3.93,"y":2.24},{"m":"RFMix","x":4.03,"y":1.82},{"m":"RFMix","x":4.12,"y":1.64},{"m":"RFMix","x":4.22,"y":1.52},{"m":"RFMix","x":4.32,"y":1.22},{"m":"RFMix","x":4.41,"y":0.96},{"m":"RFMix","x":4.51,"y":1.09},{"m":"RFMix","x":4.61,"y":1.13},{"m":"RFMix","x":4.70,"y":1.05},{"m":"RFMix","x":4.80,"y":0.96},{"m":"RFMix","x":4.89,"y":0.27},{"m":"RFMix","x":4.99,"y":-0.58},{"m":"RFMix","x":5.11,"y":-0.84},{"m":"RFMix","x":5.20,"y":-0.93},{"m":"RFMix","x":5.30,"y":-0.71},{"m":"RFMix","x":5.43,"y":-0.37},{"m":"RFMix","x":5.53,"y":-0.50},{"m":"RFMix","x":5.63,"y":-0.80},{"m":"RFMix","x":5.72,"y":-1.0},{"m":"RFMix","x":5.82,"y":-0.67},{"m":"RFMix","x":5.92,"y":-0.50},{"m":"RFMix","x":6.01,"y":-0.24},{"m":"RFMix","x":6.11,"y":0.10},{"m":"RFMix","x":6.20,"y":0.87},{"m":"RFMix","x":6.30,"y":1.73},{"m":"RFMix","x":6.40,"y":2.12},{"m":"RFMix","x":6.47,"y":2.23},{"m":"RFMix","x":6.55,"y":2.12},{"m":"RFMix","x":6.65,"y":2.07},{"m":"RFMix","x":6.72,"y":1.73},{"m":"RFMix","x":6.82,"y":1.30},{"m":"RFMix","x":6.92,"y":0.70},{"m":"RFMix","x":7.01,"y":0.36},{"m":"RFMix","x":7.11,"y":-0.15},{"m":"RFMix","x":7.21,"y":-0.67},{"m":"RFMix","x":7.30,"y":-1.01},{"m":"RFMix","x":7.40,"y":-1.01},{"m":"RFMix","x":7.49,"y":-0.75},{"m":"RFMix","x":7.59,"y":-0.71},{"m":"RFMix","x":7.71,"y":-0.67},{"m":"RFMix","x":7.82,"y":-0.51},{"m":"RFMix","x":7.94,"y":-0.58},{"m":"RFMix","x":8.05,"y":-0.67},{"m":"RFMix","x":8.17,"y":-0.74},{"m":"RFMix","x":8.27,"y":-0.84},{"m":"RFMix","x":8.38,"y":-1.05},{"m":"RFMix","x":8.48,"y":-1.27},{"m":"RFMix","x":8.57,"y":-1.34},{"m":"RFMix","x":8.67,"y":-0.93},{"m":"RFMix","x":8.75,"y":-0.33},{"m":"RFMix","x":8.84,"y":-0.03},{"m":"RFMix","x":8.92,"y":0.10},{"m":"RFMix","x":9.02,"y":-0.11},{"m":"RFMix","x":9.13,"y":-0.24},{"m":"RFMix","x":9.25,"y":-0.39},{"m":"RFMix","x":9.38,"y":-0.39},{"m":"RFMix","x":9.48,"y":-0.07},{"m":"RFMix","x":9.57,"y":0.45},{"m":"RFMix","x":9.67,"y":0.75},{"m":"RFMix","x":9.77,"y":0.53},{"m":"RFMix","x":9.86,"y":0.27},{"m":"RFMix","x":9.96,"y":0.53},{"m":"RFMix","x":10.06,"y":0.79},{"m":"RFMix","x":10.15,"y":0.87},{"m":"RFMix","x":10.25,"y":0.53},{"m":"RFMix","x":10.35,"y":0.02},{"m":"RFMix","x":10.44,"y":-0.50},{"m":"RFMix","x":10.54,"y":-0.58},{"m":"RFMix","x":10.64,"y":-0.45},{"m":"RFMix","x":10.73,"y":-0.15},{"m":"RFMix","x":10.83,"y":0.36},{"m":"RFMix","x":10.92,"y":0.49},{"m":"RFMix","x":11.02,"y":0.64},{"m":"RFMix","x":11.12,"y":0.62},{"m":"RFMix","x":11.25,"y":0.53},{"m":"RFMix","x":11.37,"y":0.36},{"m":"RFMix","x":11.46,"y":-0.15},{"m":"RFMix","x":11.56,"y":-0.75},{"m":"RFMix","x":11.64,"y":-1.10},{"m":"RFMix","x":11.74,"y":-1.18},{"m":"RFMix","x":11.83,"y":-1.48},{"m":"RFMix","x":11.93,"y":-1.61},{"m":"RFMix","x":12.02,"y":-1.44},{"m":"RFMix","x":12.12,"y":-1.10},{"m":"RFMix","x":12.22,"y":-0.88},{"m":"RFMix","x":12.31,"y":-1.10},{"m":"RFMix","x":12.41,"y":-1.31},{"m":"RFMix","x":12.50,"y":-1.35},{"m":"RFMix","x":12.60,"y":-1.22},{"m":"RFMix","x":12.70,"y":-1.05},{"m":"RFMix","x":12.79,"y":-0.97},{"m":"RFMix","x":12.89,"y":-1.01},{"m":"RFMix","x":12.99,"y":-0.99},{"m":"RFMix","x":13.10,"y":-0.91},{"m":"RFMix","x":13.22,"y":-0.97},{"m":"RFMix","x":13.33,"y":-1.10},{"m":"RFMix","x":13.45,"y":-1.18},{"m":"RFMix","x":13.56,"y":-1.27},{"m":"RFMix","x":13.65,"y":-1.35},{"m":"RFMix","x":13.75,"y":-1.22},{"m":"RFMix","x":13.85,"y":-1.14},{"m":"RFMix","x":13.94,"y":-1.08},{"m":"RFMix","x":14.0,"y":-0.67},{"m":"RFMix","x":14.08,"y":0.10},{"m":"RFMix","x":14.15,"y":1.56},{"m":"RFMix","x":14.19,"y":2.84},{"m":"RFMix","x":14.23,"y":3.91},{"m":"RFMix","x":14.29,"y":3.61},{"m":"RFMix","x":14.35,"y":3.53},{"m":"RFMix","x":14.40,"y":2.42},{"m":"RFMix","x":14.46,"y":1.56},{"m":"RFMix","x":14.52,"y":0.62},{"m":"RFMix","x":14.58,"y":1.73},{"m":"RFMix","x":14.64,"y":3.27},{"m":"RFMix","x":14.67,"y":3.74},{"m":"RFMix","x":14.73,"y":3.44},{"m":"RFMix","x":14.79,"y":1.99},{"m":"RFMix","x":14.85,"y":0.53},{"m":"RFMix","x":14.91,"y":-0.45},{"m":"RFMix","x":14.96,"y":-0.37},{"m":"RFMix","x":15.04,"y":-0.41},{"m":"RFMix","x":15.12,"y":-0.24},{"m":"RFMix","x":15.17,"y":0.06},{"m":"RFMix","x":15.25,"y":0.15},{"m":"RFMix","x":15.31,"y":0.70},{"m":"RFMix","x":15.37,"y":1.99},{"m":"RFMix","x":15.43,"y":2.16},{"m":"RFMix","x":15.48,"y":2.84},{"m":"RFMix","x":15.52,"y":4.17},{"m":"RFMix","x":15.58,"y":3.70},{"m":"RFMix","x":15.64,"y":3.23},{"m":"RFMix","x":15.70,"y":2.93},{"m":"RFMix","x":15.75,"y":3.23},{"m":"RFMix","x":15.81,"y":2.76},{"m":"RFMix","x":15.87,"y":1.90},{"m":"RFMix","x":15.93,"y":1.13},{"m":"RFMix","x":15.98,"y":0.27},{"m":"RFMix","x":16.04,"y":-0.20},{"m":"RFMix","x":16.10,"y":-0.11},{"m":"RFMix","x":16.18,"y":0.10},{"m":"RFMix","x":16.23,"y":0.45},{"m":"RFMix","x":16.31,"y":0.10},{"m":"RFMix","x":16.39,"y":0.19},{"m":"RFMix","x":16.47,"y":-0.11},{"m":"RFMix","x":16.54,"y":-0.07},{"m":"RFMix","x":16.64,"y":-0.24},{"m":"RFMix","x":16.74,"y":-0.33},{"m":"RFMix","x":16.83,"y":-0.50},{"m":"RFMix","x":16.93,"y":-0.84},{"m":"RFMix","x":17.02,"y":-0.93},{"m":"RFMix","x":17.12,"y":-1.01},{"m":"RFMix","x":17.22,"y":-1.01},{"m":"RFMix","x":17.31,"y":-1.10},{"m":"RFMix","x":17.41,"y":-1.27},{"m":"RFMix","x":17.51,"y":-1.27},{"m":"RFMix","x":17.60,"y":-1.22},{"m":"RFMix","x":17.74,"y":-1.18},{"m":"RFMix","x":17.85,"y":-1.14},{"m":"RFMix","x":17.95,"y":-1.16},{"m":"RFMix","x":18.05,"y":-1.01},{"m":"RFMix","x":18.14,"y":-0.88},{"m":"RFMix","x":18.24,"y":-0.67},{"m":"RFMix","x":18.33,"y":-0.33},{"m":"RFMix","x":18.43,"y":-0.14},{"m":"RFMix","x":18.51,"y":-0.24},{"m":"RFMix","x":18.60,"y":-0.71},{"m":"RFMix","x":18.72,"y":-0.75},{"m":"RFMix","x":18.82,"y":-0.58},{"m":"RFMix","x":18.91,"y":-0.33},{"m":"RFMix","x":19.01,"y":-0.15},{"m":"RFMix","x":19.11,"y":0.02},{"m":"RFMix","x":19.20,"y":-0.11},{"m":"RFMix","x":19.30,"y":-0.07},{"m":"RFMix","x":19.39,"y":0.27},{"m":"RFMix","x":19.49,"y":0.46},{"m":"RFMix","x":19.59,"y":0.53},{"m":"RFMix","x":19.68,"y":0.62},{"m":"RFMix","x":19.78,"y":0.79},{"m":"RFMix","x":19.88,"y":0.96},{"m":"RFMix","x":19.97,"y":1.00},{"m":"RFMix","x":20.07,"y":0.87},{"m":"RFMix","x":20.17,"y":0.45},{"m":"RFMix","x":20.26,"y":0.10},{"m":"RFMix","x":20.36,"y":0.02},{"m":"RFMix","x":20.45,"y":-0.15},{"m":"RFMix","x":20.55,"y":-0.41},{"m":"RFMix","x":20.65,"y":-0.63},{"m":"RFMix","x":20.74,"y":-0.58},{"m":"RFMix","x":20.84,"y":-0.54},{"m":"RFMix","x":20.94,"y":-0.75},{"m":"RFMix","x":21.03,"y":-1.10},{"m":"RFMix","x":21.13,"y":-1.35},{"m":"RFMix","x":21.22,"y":-1.57},{"m":"RFMix","x":21.32,"y":-1.57},{"m":"RFMix","x":21.42,"y":-1.18},{"m":"RFMix","x":21.51,"y":-0.75},{"m":"RFMix","x":21.61,"y":-0.54},{"m":"RFMix","x":21.71,"y":-0.50},{"m":"RFMix","x":21.78,"y":-0.33},{"m":"RFMix","x":21.88,"y":-0.50},{"m":"RFMix","x":21.98,"y":-0.71},{"m":"RFMix","x":22.07,"y":-0.63},{"m":"RFMix","x":22.19,"y":-0.63},{"m":"RFMix","x":22.28,"y":-0.58},{"m":"RFMix","x":22.38,"y":-0.50},{"m":"RFMix","x":22.48,"y":-0.24},{"m":"RFMix","x":22.57,"y":-0.24},{"m":"RFMix","x":22.67,"y":-0.41},{"m":"RFMix","x":22.77,"y":-0.75},{"m":"RFMix","x":22.86,"y":-1.10},{"m":"RFMix","x":22.96,"y":-1.34},{"m":"RFMix","x":23.06,"y":-1.18},{"m":"RFMix","x":23.15,"y":-0.67},{"m":"RFMix","x":23.25,"y":-0.33},{"m":"RFMix","x":23.34,"y":-0.11},{"m":"RFMix","x":23.44,"y":-0.07},{"m":"RFMix","x":23.54,"y":-0.20},{"m":"RFMix","x":23.63,"y":-0.11},{"m":"RFMix","x":23.73,"y":0.02},{"m":"RFMix","x":23.83,"y":0.19},{"m":"RFMix","x":23.92,"y":0.17},{"m":"RFMix","x":24.02,"y":0.23},{"m":"RFMix","x":24.11,"y":0.45},{"m":"RFMix","x":24.21,"y":0.62},{"m":"RFMix","x":24.31,"y":0.75},{"m":"RFMix","x":24.40,"y":0.81},{"m":"RFMix","x":24.50,"y":0.70},{"m":"RFMix","x":24.60,"y":0.36},{"m":"RFMix","x":24.69,"y":0.02},{"m":"RFMix","x":24.79,"y":-0.20},{"m":"RFMix","x":24.89,"y":-0.24},{"m":"RFMix","x":24.98,"y":0.02},{"m":"RFMix","x":25.08,"y":0.03},{"m":"RFMix","x":25.17,"y":0.02},{"m":"RFMix","x":25.27,"y":-0.07},{"m":"RFMix","x":25.37,"y":-0.03},{"m":"RFMix","x":25.46,"y":0.19},{"m":"RFMix","x":25.56,"y":0.36},{"m":"RFMix","x":25.66,"y":0.27},{"m":"RFMix","x":25.75,"y":-0.11},{"m":"RFMix","x":25.85,"y":-0.20},{"m":"RFMix","x":25.95,"y":-0.11},{"m":"RFMix","x":26.04,"y":0.03},{"m":"RFMix","x":26.14,"y":0.06},{"m":"RFMix","x":26.23,"y":-0.20},{"m":"RFMix","x":26.33,"y":-0.24},{"m":"RFMix","x":26.43,"y":-0.33},{"m":"RFMix","x":26.50,"y":-0.58},{"m":"RFMix","x":26.58,"y":-0.37},{"m":"RFMix","x":26.66,"y":-0.03},{"m":"RFMix","x":26.75,"y":0.02},{"m":"RFMix","x":26.85,"y":-0.07},{"m":"RFMix","x":26.93,"y":-0.37},{"m":"RFMix","x":27.01,"y":-0.24},{"m":"RFMix","x":27.08,"y":0.02},{"m":"RFMix","x":27.16,"y":0.53},{"m":"RFMix","x":27.24,"y":0.27},{"m":"RFMix","x":27.33,"y":0.06},{"m":"RFMix","x":27.43,"y":-0.24},{"m":"RFMix","x":27.53,"y":-0.58},{"m":"RFMix","x":27.62,"y":-0.84},{"m":"RFMix","x":27.72,"y":-1.01},{"m":"RFMix","x":27.85,"y":-0.99}
]},
"transform": [
  {"calculate": "datum.m === 'Hapmix/RASPberry' || datum.m === 'Loter' ? 'r1' : 'r2'", "as": "row"},
  {"calculate": "datum.m === 'Hapmix/RASPberry' || datum.m === 'pcadapt' ? 'c1' : 'c2'", "as": "col"}
],
"facet": {
  "row": {"field": "row", "type": "nominal", "title": null, "header": {"labels": false}},
  "column": {"field": "col", "type": "nominal", "title": "SNP position (Mbp)", "header": {"labels": false, "titleOrient": "bottom", "titleFont": "Liberation Sans", "titleFontSize": 22, "titleFontWeight": "bold", "titleColor": "#000000", "titlePadding": 8}}
},
"spacing": {"row": 13, "column": 13},
"spec": {
  "width": 529,
  "height": 298,
  "layer": [
    {
      "transform": [{"aggregate": [{"op": "count", "as": "n"}], "groupby": ["m", "row", "col"]}],
      "mark": {"type": "rect", "fill": "#D9D9D9", "stroke": "#333333", "strokeWidth": 1},
      "encoding": {
        "x": {"datum": -1.35, "type": "quantitative", "scale": {"domain": [-1.35, 29.3], "nice": false, "zero": false}},
        "x2": {"datum": 29.3},
        "y": {"datum": 4.557, "type": "quantitative", "scale": {"domain": [-2.198, 5.456], "nice": false, "zero": false}},
        "y2": {"datum": 5.456}
      }
    },
    {
      "transform": [{"aggregate": [{"op": "count", "as": "n"}], "groupby": ["m", "row", "col"]}],
      "mark": {"type": "text", "font": "Liberation Sans", "fontSize": 18, "fontWeight": "bold", "color": "#1A1A1A", "align": "center", "baseline": "middle"},
      "encoding": {
        "x": {"datum": 13.975, "type": "quantitative", "scale": {"domain": [-1.35, 29.3], "nice": false, "zero": false}},
        "y": {"datum": 5.0065, "type": "quantitative", "scale": {"domain": [-2.198, 5.456], "nice": false, "zero": false}},
        "text": {"field": "m", "type": "nominal"}
      }
    },
    {
      "transform": [{"aggregate": [{"op": "count", "as": "n"}], "groupby": ["m", "row", "col"]}],
      "mark": {"type": "rule", "color": "#000000", "strokeWidth": 1.1},
      "encoding": {
        "y": {"datum": 3, "type": "quantitative", "scale": {"domain": [-2.198, 5.456], "nice": false, "zero": false}}
      }
    },
    {
      "mark": {"type": "line", "strokeWidth": 2.4, "strokeJoin": "round"},
      "encoding": {
        "x": {"field": "x", "type": "quantitative", "scale": {"domain": [-1.35, 29.3], "nice": false, "zero": false},
          "axis": {"title": null, "values": [0, 2.5, 5, 7.5, 10, 12.5, 15, 17.5, 20, 22.5, 25, 27.5],
            "labelExpr": "datum.value % 5 === 0 ? datum.label : ''",
            "grid": true, "gridColor": "#EBEBEB",
            "gridWidth": {"condition": {"test": "datum.value % 5 === 0", "value": 1.1}, "value": 0.55},
            "tickOpacity": {"condition": {"test": "datum.value % 5 === 0", "value": 1}, "value": 0},
            "tickSize": 5, "tickColor": "#333333", "tickWidth": 1, "domain": false,
            "labelFont": "Liberation Sans", "labelFontSize": 18, "labelFontWeight": "bold", "labelColor": "#4D4D4D",
            "labelPadding": 3, "labelFlush": false, "labelOverlap": false}},
        "y": {"field": "y", "type": "quantitative", "scale": {"domain": [-2.198, 5.456], "nice": false, "zero": false},
          "axis": {"title": null, "values": [-2, -1, 0, 1, 2, 3, 4],
            "labelExpr": "datum.value % 2 === 0 ? datum.label : ''",
            "grid": true, "gridColor": "#EBEBEB",
            "gridWidth": {"condition": {"test": "datum.value % 2 === 0", "value": 1.1}, "value": 0.55},
            "tickOpacity": {"condition": {"test": "datum.value % 2 === 0", "value": 1}, "value": 0},
            "tickSize": 5, "tickColor": "#333333", "tickWidth": 1, "domain": false,
            "labelFont": "Liberation Sans", "labelFontSize": 18, "labelFontWeight": "bold", "labelColor": "#4D4D4D",
            "labelPadding": 6, "labelFlush": false, "labelOverlap": false}},
        "color": {"field": "m", "type": "nominal", "legend": null,
          "scale": {"domain": ["Hapmix/RASPberry", "Loter", "pcadapt", "RFMix"], "range": ["#B5749F", "#C0611B", "#78B2E6", "#4F9B71"]}}
      }
    }
  ]
}
}
